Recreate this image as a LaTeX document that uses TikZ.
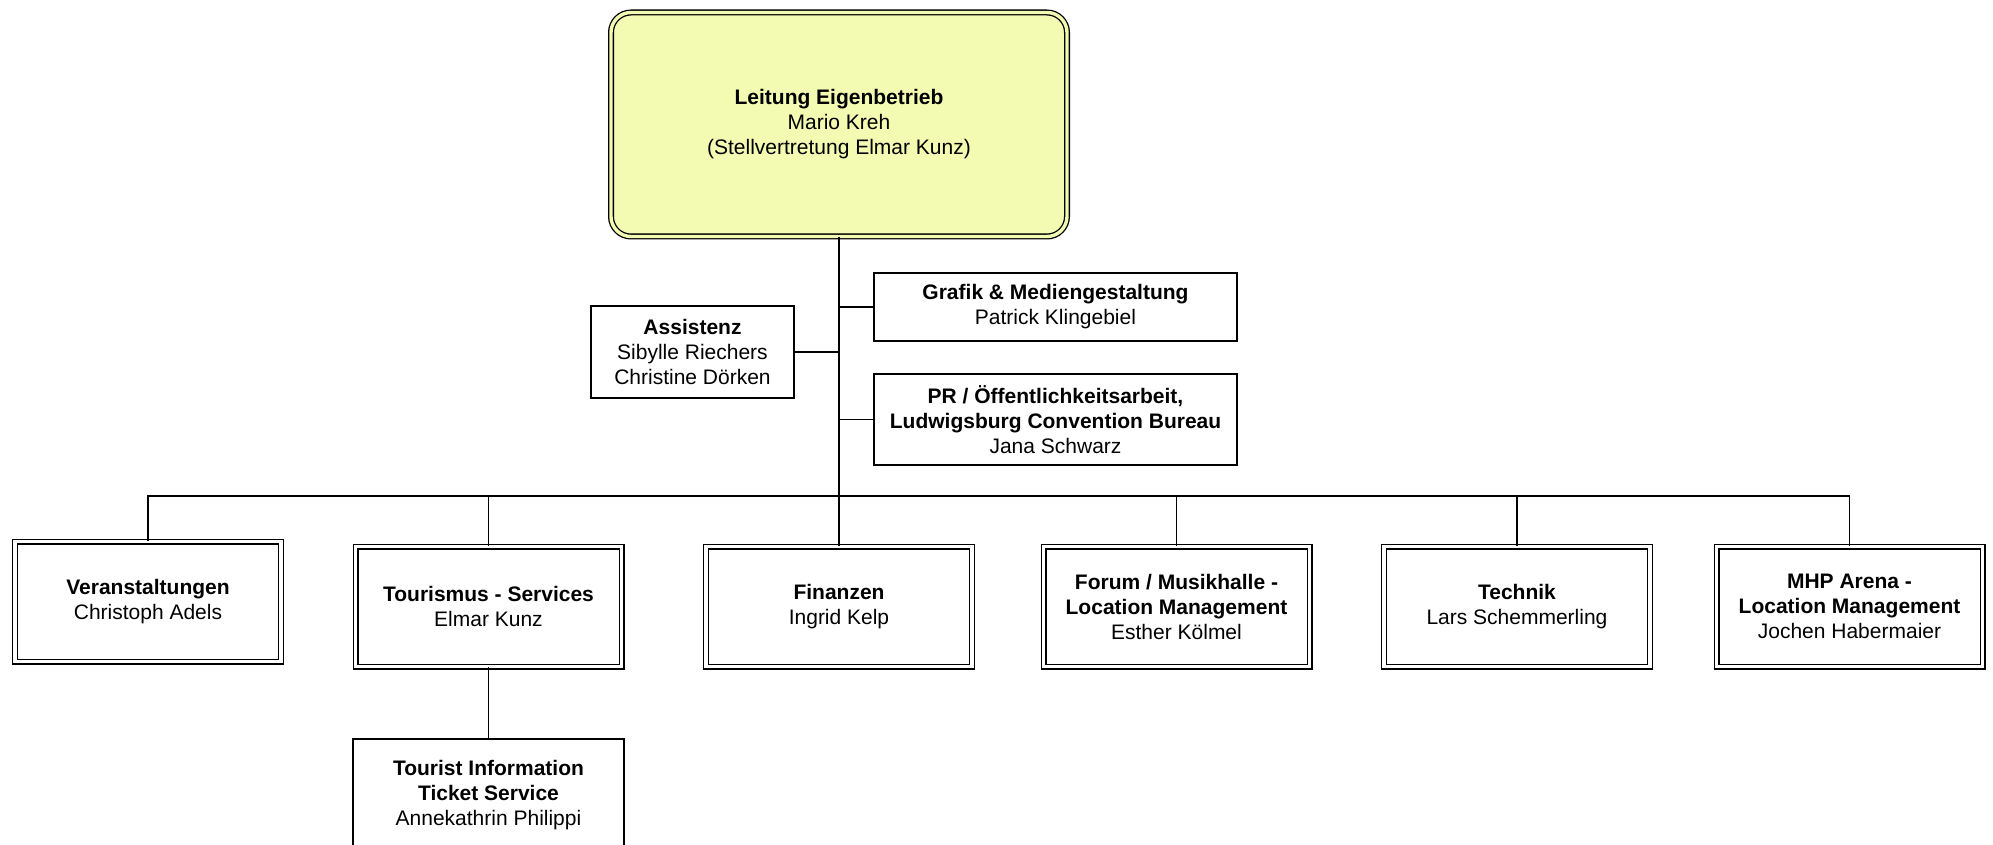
\documentclass[tikz,border=0pt]{standalone}
\usepackage{fontspec}
\setmainfont{Liberation Sans}
\usepackage{tikz}
\definecolor{leitgelb}{RGB}{243,250,178}

\begin{document}
\begin{tikzpicture}[x=0.5pt, y=-0.5pt,
	every node/.style={font=\fontsize{10.5}{12.5}\selectfont, align=center, inner sep=0pt},
	unit/.style={draw, line width=0.65pt, double, double distance=1.7pt, minimum width=133pt, minimum height=60pt},
	staff/.style={draw, line width=0.85pt},
	link/.style={line width=0.85pt}]
	\clip (0,0) rectangle (1993,845);

	\node[draw, line width=0.65pt, double=leitgelb, double distance=1.7pt, fill=leitgelb, rounded corners=10pt, minimum width=228pt, minimum height=112pt] (leitung) at (839,124.5) {\textbf{Leitung Eigenbetrieb}\\Mario Kreh\\(Stellvertretung Elmar Kunz)};

	\node[staff, minimum width=181.5pt, minimum height=34pt] (grafik) at (1055.5,307) {\textbf{Grafik \& Mediengestaltung}\\Patrick Klingebiel};
	\node[staff, minimum width=101.5pt, minimum height=46pt] (assist) at (692.5,352) {\textbf{Assistenz}\\Sibylle Riechers\\Christine Dörken};
	\node[staff, minimum width=181.5pt, minimum height=45.5pt] (pr) at (1055.5,419.5) {\textbf{PR / Öffentlichkeitsarbeit,}\\\textbf{Ludwigsburg Convention Bureau}\\Jana Schwarz};

	\node[unit] (veranst) at (148,601.5) {\textbf{Veranstaltungen}\\Christoph Adels};
	\node[unit] (tourismus) at (488.5,606.5) {\textbf{Tourismus - Services}\\Elmar Kunz};
	\node[unit] (finanzen) at (839,606.5) {\textbf{Finanzen}\\Ingrid Kelp};
	\node[unit] (forum) at (1176.5,606.5) {\textbf{Forum / Musikhalle -}\\\textbf{Location Management}\\Esther Kölmel};
	\node[unit] (technik) at (1517,606.5) {\textbf{Technik}\\Lars Schemmerling};
	\node[unit] (mhp) at (1849.5,606.5) {\textbf{MHP Arena -}\\\textbf{Location Management}\\Jochen Habermaier};

	\node[staff, minimum width=135.5pt, minimum height=56pt] (touristinfo) at (488.5,795) {\textbf{Tourist Information}\\\textbf{Ticket Service}\\Annekathrin Philippi};

	\coordinate (bus) at (839,496);
	\draw[link] (leitung.south) -- (finanzen.north);
	\draw[link] (veranst.north) |- (bus) -| (mhp.north);
	\foreach \n in {tourismus,forum,technik}
		\draw[link] (\n.north) -- (\n.north |- bus);
	\draw[link] (grafik.west) -- (grafik.west -| leitung.south);
	\draw[link] (assist.east) -- (assist.east -| leitung.south);
	\draw[link] (pr.west) -- (pr.west -| leitung.south);
	\draw[link] (tourismus.south) -- (touristinfo.north);

\end{tikzpicture}
\end{document}
